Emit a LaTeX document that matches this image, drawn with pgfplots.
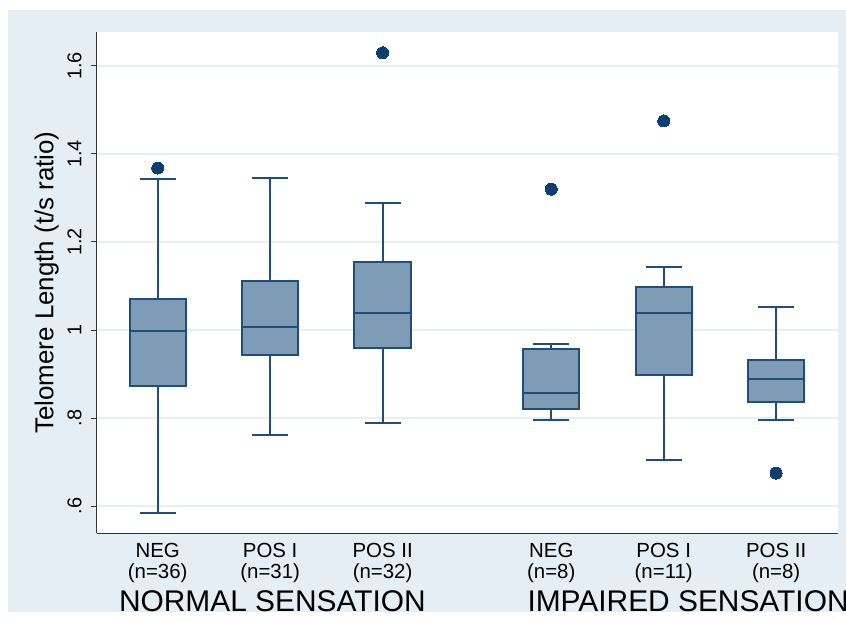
\documentclass[border=0pt]{standalone}
\usepackage{pgfplots}
\pgfplotsset{compat=1.18}
\usepgfplotslibrary{statistics}
\usepackage{fontspec}
\setmainfont{Liberation Sans}
\definecolor{bgblue}{HTML}{E4EEF4}
\definecolor{boxfill}{HTML}{7F9CB6}
\definecolor{boxline}{HTML}{1F4E79}
\definecolor{outl}{HTML}{0D3F6E}
\definecolor{gridc}{HTML}{E8EFF3}
\begin{document}
\begin{tikzpicture}
\fill[white] (-97bp,-88bp) rectangle (749bp,533bp);
\fill[bgblue] (-89bp,-79bp) rectangle (749bp,523bp);
\begin{axis}[
  at={(0,0)}, anchor=south west,
  scale only axis, width=741bp, height=501bp,
  xmin=0.46, xmax=7.05, ymin=0.539, ymax=1.677,
  axis background/.style={fill=white},
  axis x line*=bottom, axis y line*=left,
  axis line style={black!80, line width=1bp},
  xtick={1,2,3,4.5,5.5,6.5},
  xticklabels={{NEG\\(n=36)},{POS I\\(n=31)},{POS II\\(n=32)},{NEG\\(n=8)},{POS I\\(n=11)},{POS II\\(n=8)}},
  xticklabel style={align=center, font=\fontsize{20.5}{21}\selectfont, yshift=-1bp},
  x tick style={draw=none},
  ytick={0.6,0.8,1,1.2,1.4,1.6},
  yticklabels={.6,.8,1,1.2,1.4,1.6},
  yticklabel style={rotate=90, anchor=south, font=\fontsize{20}{20}\selectfont},
  yticklabel shift=6bp,
  y tick style={black!80, line width=1bp},
  tick align=outside, major tick length=6bp,
  ymajorgrids, grid style={gridc, line width=1.5bp},
  ylabel={Telomere Length (t/s ratio)},
  ylabel style={at={(axis description cs:-0.047,0.5)}, anchor=south, font=\fontsize{26}{26}\selectfont},
  clip=false,
  boxplot/draw direction=y,
  boxplot/every box/.style={fill=boxfill, draw=boxline, line width=2bp},
  boxplot/every whisker/.style={draw=boxline, line width=2bp},
  boxplot/every median/.style={draw=boxline, line width=2.4bp},
  boxplot/box extend=0.5,
  boxplot/whisker extend=0.32,
  every axis plot/.append style={mark=*, mark size=6bp, mark options={fill=outl, draw=outl, solid, line width=0bp}},
]
\addplot[boxplot prepared={draw position=1, median=0.998, upper quartile=1.070, lower quartile=0.873, upper whisker=1.343, lower whisker=0.584}]
  table[row sep=\\, y index=0] {1.368\\};
\addplot[boxplot prepared={draw position=2, median=1.007, upper quartile=1.111, lower quartile=0.943, upper whisker=1.345, lower whisker=0.761}]
  coordinates {};
\addplot[boxplot prepared={draw position=3, median=1.039, upper quartile=1.155, lower quartile=0.959, upper whisker=1.289, lower whisker=0.789}]
  table[row sep=\\, y index=0] {1.630\\};
\addplot[boxplot prepared={draw position=4.5, median=0.857, upper quartile=0.957, lower quartile=0.820, upper whisker=0.968, lower whisker=0.795}]
  table[row sep=\\, y index=0] {1.320\\};
\addplot[boxplot prepared={draw position=5.5, median=1.039, upper quartile=1.098, lower quartile=0.898, upper whisker=1.143, lower whisker=0.705}]
  table[row sep=\\, y index=0] {1.475\\};
\addplot[boxplot prepared={draw position=6.5, median=0.889, upper quartile=0.932, lower quartile=0.836, upper whisker=1.052, lower whisker=0.795}]
  table[row sep=\\, y index=0] {0.675\\};
\node[anchor=base, font=\fontsize{30}{30}\selectfont] at (axis cs:2.02,0.539) [yshift=-78bp] {NORMAL SENSATION};
\node[anchor=base west, font=\fontsize{30}{30}\selectfont] at (axis cs:0.46,0.539) [xshift=427bp, yshift=-78bp] {IMPAIRED SENSATION};
\end{axis}
\pgfresetboundingbox
\path[use as bounding box] (-97bp,-88bp) rectangle (749bp,533bp);
\end{tikzpicture}
\end{document}
